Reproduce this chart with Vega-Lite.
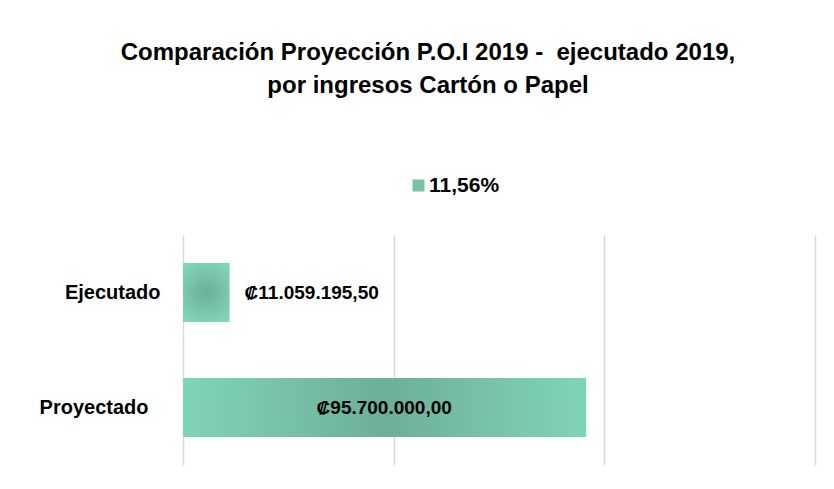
{
  "$schema": "https://vega.github.io/schema/vega-lite/v6.json",
  "width": 632,
  "height": 230,
  "autosize": {"type": "none"},
  "padding": {"left": 183, "top": 235, "right": 19, "bottom": 24},
  "background": "white",
  "config": {"view": {"stroke": null}, "font": "Liberation Sans"},
  "title": {
    "text": ["Comparación Proyección P.O.I 2019 -\u00a0 ejecutado 2019,", "por ingresos Cartón o Papel"],
    "fontSize": 24,
    "fontWeight": "bold",
    "color": "#000000",
    "anchor": "middle",
    "dx": -71,
    "offset": 77,
    "lineHeight": 33
  },
  "data": {
    "values": [
      {"Tipo": "Ejecutado", "Valor": 11059195.5, "Etiqueta": "₡11.059.195,50", "serie": "11,56%"},
      {"Tipo": "Proyectado", "Valor": 95700000, "Etiqueta": "₡95.700.000,00", "serie": "11,56%"}
    ]
  },
  "encoding": {
    "y": {
      "field": "Tipo",
      "type": "nominal",
      "sort": ["Ejecutado", "Proyectado"],
      "scale": {"paddingInner": 0.487, "paddingOuter": 0.2435},
      "axis": {
        "title": null,
        "ticks": false,
        "domain": false,
        "grid": false,
        "labelFontSize": 20,
        "labelFontWeight": "bold",
        "labelColor": "#000000",
        "labelFont": "Liberation Sans",
        "labelPadding": {"condition": {"test": "datum.value === 'Proyectado'", "value": 35}, "value": 23}
      }
    },
    "x": {
      "field": "Valor",
      "type": "quantitative",
      "scale": {"domain": [0, 150000000], "nice": false},
      "axis": {
        "title": null,
        "labels": false,
        "ticks": false,
        "domain": false,
        "values": [0, 50000000, 100000000, 150000000],
        "grid": true,
        "gridColor": "#d9d9e0",
        "gridWidth": 1.5
      }
    }
  },
  "layer": [
    {
      "mark": {"type": "bar", "opacity": 0},
      "encoding": {
        "color": {
          "field": "serie",
          "type": "nominal",
          "scale": {"range": ["#77c3a8"]},
          "legend": {
            "title": null,
            "orient": "none",
            "legendX": 225,
            "legendY": -60,
            "padding": 0,
            "symbolType": "square",
            "symbolSize": 144,
            "symbolOpacity": 1,
            "symbolStrokeWidth": 0,
            "labelFontSize": 21,
            "labelFontWeight": "bold",
            "labelColor": "#000000",
            "labelFont": "Liberation Sans",
            "labelOffset": 0
          }
        }
      }
    },
    {
      "transform": [{"filter": "datum.Tipo === 'Ejecutado'"}],
      "mark": {
        "type": "bar",
        "fill": {
          "gradient": "radial",
          "x1": 0.5, "y1": 0.5, "r1": 0,
          "x2": 0.5, "y2": 0.5, "r2": 0.55,
          "stops": [
            {"offset": 0, "color": "#6daf98"},
            {"offset": 1, "color": "#80d4b7"}
          ]
        }
      }
    },
    {
      "transform": [{"filter": "datum.Tipo === 'Proyectado'"}],
      "mark": {
        "type": "bar",
        "fill": {
          "gradient": "linear",
          "x1": 0, "y1": 0, "x2": 1, "y2": 0,
          "stops": [
            {"offset": 0, "color": "#80d4b7"},
            {"offset": 0.5, "color": "#6daf98"},
            {"offset": 1, "color": "#80d4b7"}
          ]
        }
      }
    },
    {
      "transform": [{"filter": "datum.Tipo === 'Ejecutado'"}],
      "mark": {"type": "text", "align": "left", "baseline": "middle", "dx": 15, "fontSize": 19, "fontWeight": "bold", "color": "#000000", "font": "Liberation Sans"},
      "encoding": {"text": {"field": "Etiqueta"}}
    },
    {
      "transform": [{"filter": "datum.Tipo === 'Proyectado'"}],
      "mark": {"type": "text", "align": "center", "baseline": "middle", "dx": -202, "fontSize": 19, "fontWeight": "bold", "color": "#000000", "font": "Liberation Sans"},
      "encoding": {"text": {"field": "Etiqueta"}}
    }
  ]
}
